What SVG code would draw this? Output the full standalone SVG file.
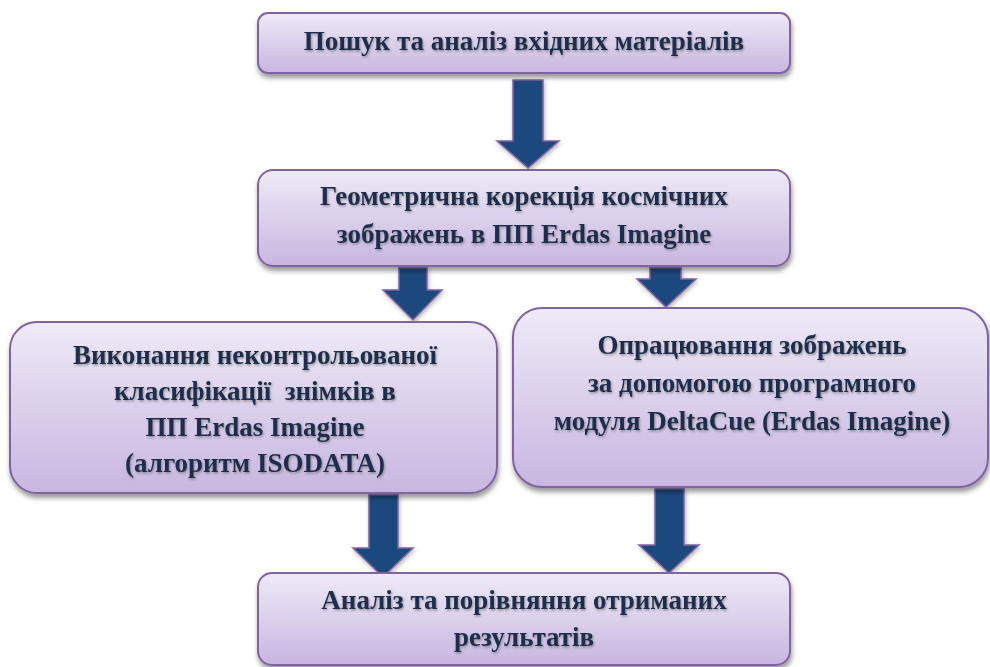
<svg xmlns="http://www.w3.org/2000/svg" width="990" height="667" viewBox="0 0 990 667">
<style>
.box{fill:url(#g);stroke:#8064a2;stroke-width:2;filter:url(#sh)}
.arr{fill:#1f497d;stroke:#8064a2;stroke-width:1.5;filter:url(#ash)}
.t{font-family:"Liberation Serif","Times New Roman",serif;font-weight:bold;font-size:27px;fill:#1a2e4c;text-anchor:middle;filter:url(#tsh);white-space:pre}
</style>
<defs>
<linearGradient id="g" x1="0" y1="0" x2="0" y2="1">
<stop offset="0" stop-color="#efeaf7"/>
<stop offset="1" stop-color="#c8b6e0"/>
</linearGradient>
<filter id="sh" x="-10%" y="-20%" width="120%" height="150%">
<feDropShadow dx="1" dy="4" stdDeviation="2.5" flood-color="#000" flood-opacity="0.4"/>
</filter>
<filter id="ash" x="-30%" y="-20%" width="160%" height="150%">
<feDropShadow dx="1" dy="2" stdDeviation="2" flood-color="#000" flood-opacity="0.3"/>
</filter>
<filter id="tsh" x="-5%" y="-20%" width="110%" height="150%">
<feDropShadow dx="1" dy="1.5" stdDeviation="0.8" flood-color="#555" flood-opacity="0.55"/>
</filter>
</defs>
<g id="connectors">
<polygon class="arr" points="513,80 543,80 543,141 559,141 528,168 497,141 513,141"/>
<polygon class="arr" points="399,268 427,268 427,290 442,290 413,320 383,290 399,290"/>
<polygon class="arr" points="650,268 681,268 681,279 696,279 666,307 637,279 650,279"/>
<polygon class="arr" points="369,495 398,495 398,548 413,548 383,577 353,548 369,548"/>
<polygon class="arr" points="655,489 684,489 684,545 699,545 669,573 639,545 655,545"/>
</g>
<g id="n1">
<rect class="box" x="258" y="13" width="532" height="60" rx="10"/>
<text class="t" x="524" y="50">Пошук та аналіз вхідних матеріалів</text>
</g>
<g id="n2">
<rect class="box" x="258" y="170" width="532" height="96" rx="15"/>
<text class="t" x="524" y="205">Геометрична корекція космічних</text>
<text class="t" x="524" y="243">зображень в ПП Erdas Imagine</text>
</g>
<g id="n3">
<rect class="box" x="10" y="322" width="487" height="171" rx="27"/>
<text class="t" x="255" y="364">Виконання неконтрольованої</text>
<text class="t" x="255" y="400" xml:space="preserve">класифікації  знімків в</text>
<text class="t" x="255" y="436">ПП Erdas Imagine</text>
<text class="t" x="255" y="472">(алгоритм ISODATA)</text>
</g>
<g id="n4">
<rect class="box" x="513" y="308" width="475" height="179" rx="29"/>
<text class="t" x="752" y="354">Опрацювання зображень</text>
<text class="t" x="752" y="392">за допомогою програмного</text>
<text class="t" x="752" y="430">модуля DeltaCue (Erdas Imagine)</text>
</g>
<g id="n5">
<rect class="box" x="258" y="573" width="532" height="92" rx="14"/>
<text class="t" x="524" y="609">Аналіз та порівняння отриманих</text>
<text class="t" x="524" y="646">результатів</text>
</g>
</svg>
